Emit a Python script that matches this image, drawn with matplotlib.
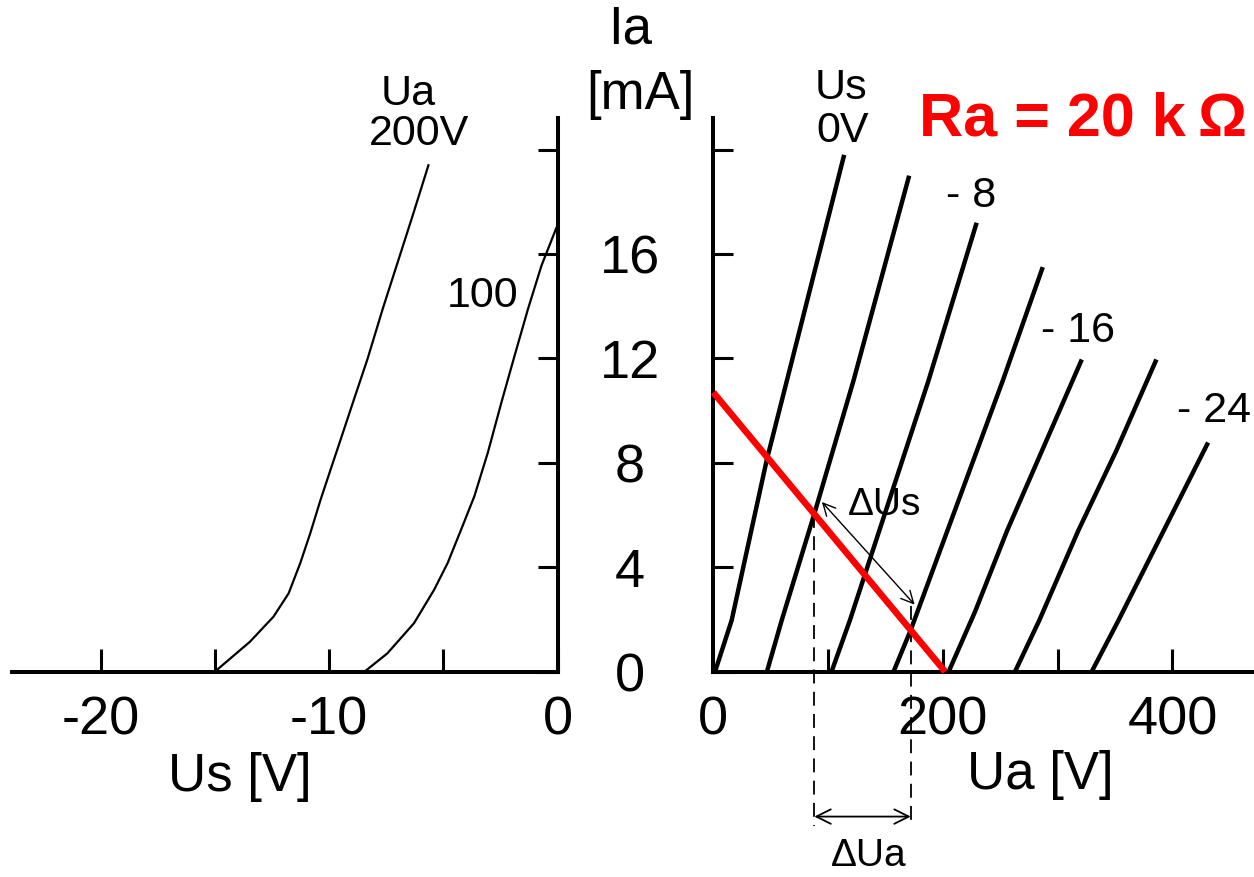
import matplotlib
matplotlib.use("Agg")
import matplotlib.pyplot as plt

plt.rcParams['font.family'] = ['Liberation Sans', 'DejaVu Sans']
plt.rcParams['lines.scale_dashes'] = False

# ---------------- data ----------------
# left panel: Ia(Us) for two anode voltages
us_200 = [-15.0, -13.46, -12.43, -11.77, -11.26, -10.82, -10.37, -9.93, -9.49, -8.91,
          -8.32, -7.65, -6.99, -6.33, -5.65]
ia_200 = [0.0, 1.15, 2.11, 3.0, 4.16, 5.31, 6.59, 7.75, 8.9, 10.43,
          11.97, 13.9, 15.7, 17.5, 19.4]
us_100 = [-8.45, -7.45, -6.28, -5.40, -4.81, -4.22, -3.64, -3.05, -2.46, -1.88,
          -1.29, -0.70, -0.05]
ia_100 = [0.0, 0.70, 1.86, 3.14, 4.16, 5.44, 6.72, 8.39, 10.3, 12.1,
          13.9, 15.56, 17.0]

# right panel: Ia(Ua) for grid voltages 0 ... -24 V
ua_g0 = [1.5, 16, 46.5, 114]
ia_g0 = [0.0, 1.97, 8.1, 19.8]
ua_g4 = [46.7, 59.6, 88, 122, 170.6]
ia_g4 = [0.0, 1.97, 6.05, 11.13, 19.0]
ua_g8 = [103, 119, 187.3, 229.4]
ia_g8 = [0.0, 1.97, 11.13, 17.2]
ua_g12 = [157, 172, 252, 287]
ia_g12 = [0.0, 1.6, 11.13, 15.5]
ua_g16 = [205, 228, 256, 321]
ia_g16 = [0.0, 2.3, 5.41, 11.96]
ua_g20 = [262.8, 284, 318, 351, 386]
ia_g20 = [0.0, 1.97, 5.41, 8.46, 11.96]
ua_g24 = [329.6, 353, 431]
ia_g24 = [0.0, 1.97, 8.78]

# load line Ra = 20 kOhm
load_ua = [0, 202]
load_ia = [10.7, 0.0]

# operating-point guides and delta arrows
guide_ua = [88, 172]
guide_top = [6.05, 2.5]
dus_ua = [93, 177]
dus_ia = [6.58, 2.49]
dua_level = -5.55

# ticks
left_xticks = [-20, -15, -10, -5, 0]
left_xlabels = ['-20', '', '-10', '', '0']
right_xticks = [0, 100, 200, 300, 400]
right_xlabels = ['0', '', '200', '', '400']
yticks = [0, 4, 8, 12, 16, 20]
ylabels = ['0', '4', '8', '12', '16', '']

# ---------------- figure ----------------
W, H = 1254, 877
fig = plt.figure(figsize=(W / 100, H / 100), dpi=100)

def fx(x):
    return x / W

def fy(y):
    return 1 - y / H

y0 = 671.7
ytop = 118.3
axL = fig.add_axes([fx(11.5), fy(y0), (557.5 - 11.5) / W, (y0 - ytop) / H])
axR = fig.add_axes([fx(713.3), fy(y0), (W - 713.3) / W, (y0 - ytop) / H])

for ax in (axL, axR):
    ax.set_ylim(0, 21.2)
    ax.patch.set_alpha(0)
axL.set_xlim(-23.9, 0)
axR.set_xlim(0, 471)

spine_lw = 2.9
axL.spines['left'].set_visible(False)
axL.spines['top'].set_visible(False)
axL.spines['bottom'].set_linewidth(spine_lw)
axL.spines['right'].set_linewidth(spine_lw)
axR.spines['right'].set_visible(False)
axR.spines['top'].set_visible(False)
axR.spines['bottom'].set_linewidth(spine_lw)
axR.spines['left'].set_linewidth(spine_lw)

tick_fs = 39
axL.set_xticks(left_xticks)
axL.set_xticklabels(left_xlabels)
axL.tick_params(axis='x', direction='in', length=16.5, width=2.2, pad=17, labelsize=tick_fs)
axL.yaxis.tick_right()
axL.set_yticks(yticks)
axL.tick_params(axis='y', direction='in', length=14.4, width=2.2, labelright=False, labelleft=False)

axR.set_xticks(right_xticks)
axR.set_xticklabels(right_xlabels)
axR.tick_params(axis='x', direction='in', length=16.5, width=2.2, pad=17, labelsize=tick_fs)
axR.set_yticks(yticks)
axR.set_yticklabels(ylabels)
axR.tick_params(axis='y', direction='in', length=14.4, width=2.2, pad=60, labelsize=tick_fs)
for lab in axR.get_yticklabels():
    lab.set_horizontalalignment('center')

# left curves
axL.plot(us_200, ia_200, color='black', lw=1.6, clip_on=False, solid_joinstyle='round')
axL.plot(us_100, ia_100, color='black', lw=1.6, clip_on=False, solid_joinstyle='round')

# right curves
for ua, ia in [(ua_g0, ia_g0), (ua_g4, ia_g4), (ua_g8, ia_g8), (ua_g12, ia_g12),
               (ua_g16, ia_g16), (ua_g20, ia_g20), (ua_g24, ia_g24)]:
    axR.plot(ua, ia, color='black', lw=3.2, solid_capstyle='butt',
             solid_joinstyle='round', clip_on=False)

# load line
axR.plot(load_ua, load_ia, color='#ff0000', lw=4.7, solid_capstyle='butt', clip_on=False, zorder=4)

# dashed guides
for u, t in zip(guide_ua, guide_top):
    axR.plot([u, u], [t, -5.9], color='black', lw=1.3, linestyle=(0, (10, 6)), clip_on=False)

# delta Us arrow
axR.annotate('', xy=(dus_ua[0], dus_ia[0]), xytext=(dus_ua[1], dus_ia[1]),
             arrowprops=dict(arrowstyle='<->', color='black', lw=1.0, mutation_scale=22),
             annotation_clip=False)
# delta Ua arrow
axR.annotate('', xy=(guide_ua[0], dua_level), xytext=(guide_ua[1], dua_level),
             arrowprops=dict(arrowstyle='<->', color='black', lw=1.3, mutation_scale=26,
                             shrinkA=0, shrinkB=0),
             annotation_clip=False)

# ---------------- texts ----------------
lab_fs = 31
fig.text(fx(408), fy(94), 'Ua', fontsize=lab_fs, ha='center', va='center')
fig.text(fx(419), fy(134), '200V', fontsize=lab_fs, ha='center', va='center')
fig.text(fx(483), fy(296), '100', fontsize=lab_fs, ha='center', va='center')
fig.text(fx(630), fy(29), 'Ia', fontsize=38, ha='center', va='center')
fig.text(fx(640), fy(95), '[mA]', fontsize=38, ha='center', va='center')
fig.text(fx(841), fy(88), 'Us', fontsize=lab_fs, ha='center', va='center')
fig.text(fx(843), fy(131), '0V', fontsize=lab_fs, ha='center', va='center')
fig.text(fx(971), fy(196), '- 8', fontsize=lab_fs, ha='center', va='center')
fig.text(fx(1078), fy(331), '- 16', fontsize=lab_fs, ha='center', va='center')
fig.text(fx(1214), fy(411), '- 24', fontsize=lab_fs, ha='center', va='center')
fig.text(fx(1083), fy(120), 'Ra = 20 k\u2009\u03a9', fontsize=44, fontweight='bold',
         color='#ff0000', ha='center', va='center')
fig.text(fx(848), fy(505), '\u0394Us', fontsize=28, ha='left', va='center')
fig.text(fx(869), fy(838), '\u0394Ua', fontsize=28, ha='center', va='top')
fig.text(fx(240), fy(777), 'Us [V]', fontsize=38, ha='center', va='center')
fig.text(fx(1040), fy(775), 'Ua [V]', fontsize=38, ha='center', va='center')

fig.savefig('out.png', dpi=100, facecolor='white')
